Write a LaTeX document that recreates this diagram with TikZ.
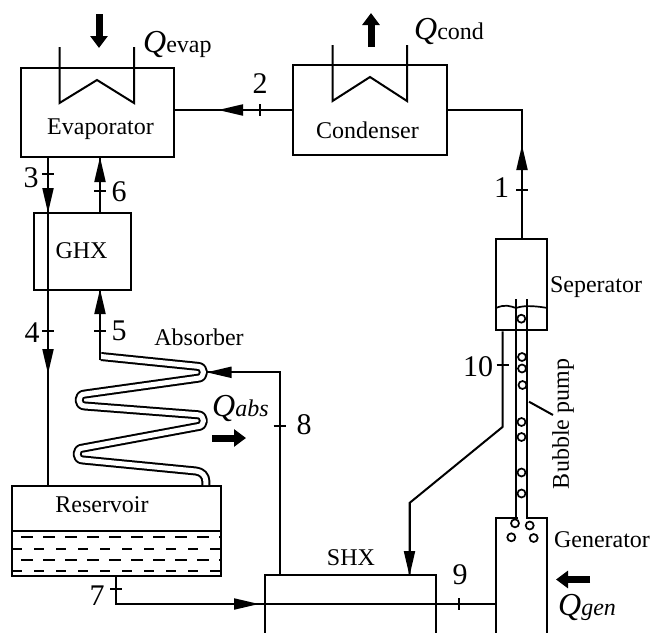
\documentclass[tikz,border=0pt]{standalone}
\usepackage{fontspec}
\setmainfont{Liberation Serif}
\usetikzlibrary{arrows.meta}
\tikzset{
 box/.style={draw,rectangle,inner sep=0pt,line width=2pt},
 lbl/.style={inner sep=0pt,anchor=base,font=\fontsize{24}{28}\selectfont},
 num/.style={inner sep=0pt,anchor=base,font=\fontsize{30}{34}\selectfont},
 qlbl/.style={inner sep=0pt,anchor=base west,font=\fontsize{24}{28}\selectfont},
 pipe/.style={line width=2pt},
 flow/.style={line width=2pt,-{Triangle[length=25pt,width=11pt]}},
 ticks/.style={line width=1.8pt},
 heat/.style={line width=7pt,-{Triangle[length=12pt,width=17pt]}},
 bubble/.style={draw,circle,inner sep=0pt,minimum size=8pt,line width=1.7pt,fill=white},
 liquid/.style={line width=1.7pt},
}
\newcommand{\Qbig}{\fontsize{32}{34}\selectfont\itshape Q}
\begin{document}
\begin{tikzpicture}[x=1pt,y=-1pt]
\useasboundingbox (0,0) rectangle (653,632);
\clip (0,0) rectangle (653,632);
% boxes
\node[box,minimum width=153pt,minimum height=89.5pt] (evap) at (97,112.3) {};
\node[box,minimum width=153.5pt,minimum height=90pt] (cond) at (370,110) {};
\node[box,minimum width=97.5pt,minimum height=77pt] (ghx) at (82.7,251) {};
\node[box,minimum width=51.5pt,minimum height=91pt] (sep) at (521.7,284.8) {};
\node[box,minimum width=51pt,minimum height=132pt] (gen) at (521.5,584) {};
\node[box,minimum width=171.5pt,minimum height=75pt] (shx) at (350.5,612.5) {};
\node[box,minimum width=209pt,minimum height=90pt] (res) at (116.5,530.7) {};
% named points
\coordinate (t2) at (260,110);
\coordinate (h2) at (218,110);
\coordinate (t1) at (522,190);
\coordinate (h1) at (522,145);
\coordinate (t3) at (48,174);
\coordinate (h3) at (48,213);
\coordinate (t4) at (48,331);
\coordinate (h4) at (48,374);
\coordinate (t6) at (100,191);
\coordinate (h6) at (100,157);
\coordinate (t5) at (100,331);
\coordinate (h5) at (100,289);
\coordinate (abin) at (100,360);
\coordinate (t8) at (279.5,426);
\coordinate (h8) at (206.5,372.3);
\coordinate (c8) at (279.5,372.3);
\coordinate (t7) at (116,589);
\coordinate (c7) at (116,604);
\coordinate (h7) at (259,604);
\coordinate (t9) at (459,604);
\coordinate (t10) at (502.5,365);
\coordinate (d1) at (502.5,427);
\coordinate (d2) at (409.5,503);
\coordinate (h10) at (409.5,576);
\coordinate (wl) at (496,308);
\coordinate (wr) at (547.5,308);
% evaporator coil
\draw[pipe] (59.5,47) -- (59.5,103) -- (97,80) -- (134,103) -- (134,47);
\draw[pipe] (332.5,45) -- (332.5,101) -- (370,77) -- (407,101) -- (407,45);
% heat arrows
\draw[heat] (99,14) -- (99,48);
\draw[heat] (371,47) -- (371,13);
\draw[heat] (212,438) -- (246,438);
\draw[heat] (590,579.5) -- (556,579.5);
% connectors: plain runs, then the arrowheads on top
\draw[pipe] (cond.west) -- (cond.west -| evap.east);
\draw[flow] (t2) -- (h2);
\draw[pipe] (cond.east) -| (t1);
\draw[pipe] (sep.north -| t1) -- (t1);
\draw[flow] (t1) -- (h1);
\draw[pipe] (t3 |- evap.south) -- (t3 |- res.north);
\draw[flow] (t3) -- (h3);
\draw[flow] (t4) -- (h4);
\draw[pipe] (t6 |- ghx.north) -- (t6 |- evap.south);
\draw[flow] (t6) -- (h6);
\draw[pipe] (abin) -- (t5 |- ghx.south);
\draw[flow] (t5) -- (h5);
\draw[pipe] (t8 |- shx.north) -- (c8) -- (c8 -| h8);
\draw[flow] (t8 |- h8) -- (h8);
\draw[pipe] (t7 |- res.south) -- (c7) -- (c7 -| gen.west);
\draw[flow] (c7) -- (h7);
\draw[pipe] (t10 |- sep.south) -- (d1) -- (d2) -- (d2 |- shx.north);
\draw[flow] (d2) -- (h10);
% absorber tube
\draw[line width=2pt,double=white,double distance=5pt,line join=round]
 (101,356.5) -- (197.5,366.3) .. controls (205.5,366.3) and (205.5,378.3) .. (197.5,378.3)
 -- (85,394) .. controls (77,394) and (77,406) .. (85,406)
 -- (197.5,414.7) .. controls (205.5,414.7) and (205.5,426.7) .. (197.5,426.7)
 -- (83,448) .. controls (75,448) and (75,460) .. (83,460)
 -- (196,471) .. controls (202,471.6) and (205.8,476) .. (205.8,481) -- (205.8,485);
\draw[pipe] (100,352) -- (abin);
% reservoir liquid
\draw[pipe] (12,531) -- (221,531);
\draw[liquid,dash pattern=on 12pt off 10pt] (21,537.3) -- (221,537.3);
\draw[liquid,dash pattern=on 10pt off 12pt] (12,548.7) -- (221,548.7);
\draw[liquid,dash pattern=on 12pt off 10pt] (21,560) -- (221,560);
\draw[liquid,dash pattern=on 10pt off 12pt] (12,570.7) -- (221,570.7);
% separator liquid level
\draw[liquid] (wl) .. controls (505,304) and (510,306) .. (516,308) .. controls (522,306) and (530,305) .. (wr);
% bubble pump tubes
\draw[white,line width=3pt] (517.5,518) -- (525.5,518);
\draw[pipe] (516,299) -- (516,518);
\draw[pipe] (526.7,299) -- (526.7,518);
\draw[pipe] (529,401.7) -- (553,415);
% bubbles
\foreach \nm/\px/\py in {b1/521.3/318.7,b2/522/357,b3/522/368.5,b4/522.5/385,b5/521.5/422,b6/521.5/437,b7/521.5/472.5,b8/521.5/493.5,b9/515/523.3,b10/529.7/525.5,b11/511.3/537.3,b12/533.7/538}
  \node[bubble] (\nm) at (\px,\py) {};
% ticks
\draw[ticks] (t2)+(0,-6) -- +(0,6);
\draw[ticks] (t1)+(-6,0) -- +(6,0);
\draw[ticks] (t3)+(-6,0) -- +(6,0);
\draw[ticks] (t4)+(-6,0) -- +(6,0);
\draw[ticks] (t5)+(-6,0) -- +(6,0);
\draw[ticks] (t6)+(-6,0) -- +(6,0);
\draw[ticks] (t7)+(-6,0) -- +(6,0);
\draw[ticks] (t8)+(-6,0) -- +(6,0);
\draw[ticks] (t9)+(0,-6) -- +(0,6);
\draw[ticks] (t10)+(-6,0) -- +(6,0);
% labels
\node[lbl] (levap) at (100.5,134) {Evaporator};
\node[lbl] (lcond) at (367.5,138) {Condenser};
\node[lbl] (lghx) at (81.5,258.7) {GHX};
\node[lbl] (labs) at (199,345) {Absorber};
\node[lbl] (lres) at (102,512) {Reservoir};
\node[lbl] (lsep) at (596,292) {Seperator};
\node[lbl] (lgen) at (602,547) {Generator};
\node[lbl] (lshx) at (351,565) {SHX};
\node[lbl,rotate=90,anchor=center] (lpump) at (563,424) {Bubble pump};
\node[num] (n1) at (501.7,197) {1};
\node[num] (n2) at (260,93) {2};
\node[num] (n3) at (31,187.7) {3};
\node[num] (n4) at (32,342.7) {4};
\node[num] (n5) at (119,340.7) {5};
\node[num] (n6) at (119,201) {6};
\node[num] (n7) at (97,605) {7};
\node[num] (n8) at (304,434) {8};
\node[num] (n9) at (460,584) {9};
\node[num] (n10) at (478,376) {10};
\node[qlbl] (qe) at (143,52) {{\Qbig}evap};
\node[qlbl] (qc) at (414,39) {{\Qbig}cond};
\node[qlbl] (qa) at (212,416.7) {{\Qbig}\itshape abs};
\node[qlbl] (qg) at (558,615) {{\Qbig}\itshape gen};
\end{tikzpicture}
\end{document}
